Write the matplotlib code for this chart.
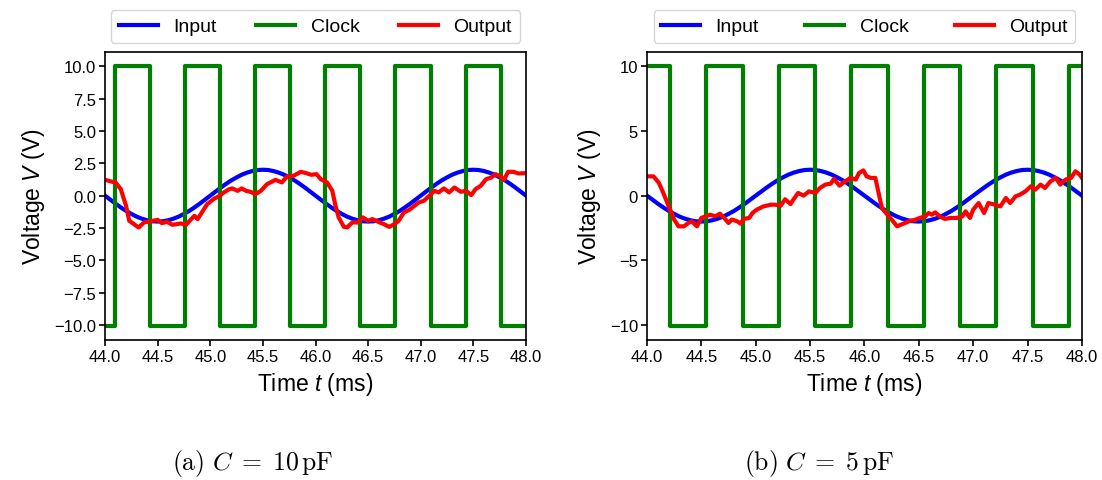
import numpy as np
import matplotlib
matplotlib.use("Agg")
import matplotlib.pyplot as plt

plt.rcParams["font.family"] = ["Liberation Sans", "DejaVu Sans"]
plt.rcParams["mathtext.fontset"] = "custom"
plt.rcParams["mathtext.rm"] = "Liberation Sans"
plt.rcParams["mathtext.it"] = "Liberation Sans:italic"

# Input sine, sampled every 0.05 ms from 44.00 to 48.00 ms
input_t = [44.0 + 0.05 * k for k in range(81)]
_half = [0.00, 0.31, 0.62, 0.91, 1.18, 1.41, 1.62, 1.78, 1.90, 1.98,
         2.00, 1.98, 1.90, 1.78, 1.62, 1.41, 1.18, 0.91, 0.62, 0.31]
input_v = ([-v for v in _half] + _half) * 2 + [0.00]

# Clock switching instants (ms) and levels (V)
clock_high = 10.0
clock_low = -10.05
clock_edges_a = [44.093, 44.427, 44.760, 45.093, 45.427, 45.760, 46.093,
                 46.427, 46.760, 47.093, 47.427, 47.760]
clock_start_a = clock_low
clock_edges_b = [44.210, 44.545, 44.880, 45.213, 45.547, 45.880, 46.213,
                 46.547, 46.880, 47.213, 47.547, 47.880]
clock_start_b = clock_high

# Output (time ms, voltage V), C = 10 pF
output_a = [
    (44.00, 1.22), (44.07, 1.07), (44.10, 1.02), (44.15, 0.50), (44.20, -0.79),
    (44.23, -1.94), (44.275, -2.20), (44.32, -2.46), (44.37, -2.07), (44.42, -2.00),
    (44.50, -1.87), (44.54, -2.12), (44.59, -2.02), (44.64, -2.25), (44.72, -2.15),
    (44.77, -2.25), (44.81, -1.89), (44.85, -1.56), (44.88, -1.81), (44.92, -1.30),
    (44.97, -0.66), (45.04, -0.22), (45.08, -0.06), (45.13, 0.25), (45.18, 0.50),
    (45.21, 0.56), (45.26, 0.37), (45.30, 0.56), (45.34, 0.37), (45.38, 0.30),
    (45.43, 0.12), (45.48, 0.37), (45.54, 0.89), (45.62, 1.22), (45.68, 1.02),
    (45.73, 1.48), (45.79, 1.53), (45.86, 1.84), (45.91, 1.74), (45.96, 1.61),
    (46.01, 1.66), (46.05, 1.27), (46.11, 1.02), (46.16, 0.37), (46.19, -0.79),
    (46.22, -1.68), (46.27, -2.41), (46.30, -2.46), (46.35, -2.07), (46.40, -2.07),
    (46.45, -1.68), (46.50, -1.94), (46.54, -1.81), (46.61, -2.07), (46.65, -2.20),
    (46.70, -2.41), (46.75, -2.20), (46.79, -1.94), (46.84, -1.30), (46.89, -1.10),
    (46.94, -0.79), (46.98, -0.53), (47.03, -0.40), (47.08, -0.02), (47.13, 0.37),
    (47.17, 0.25), (47.22, 0.56), (47.27, 0.25), (47.32, 0.63), (47.38, 0.30),
    (47.43, 0.37), (47.48, 0.04), (47.52, 0.50), (47.57, 0.76), (47.62, 1.27),
    (47.67, 1.40), (47.71, 1.66), (47.75, 1.53), (47.79, 1.22), (47.83, 1.84),
    (47.88, 1.84), (47.93, 1.71), (48.00, 1.74),
]

# Output (time ms, voltage V), C = 5 pF
output_b = [
    (44.00, 1.49), (44.06, 1.49), (44.11, 0.98), (44.15, 0.21), (44.20, -0.83),
    (44.25, -1.85), (44.29, -2.37), (44.34, -2.37), (44.38, -2.11), (44.41, -1.98),
    (44.46, -2.37), (44.50, -1.72), (44.54, -1.60), (44.58, -1.47), (44.63, -1.60),
    (44.67, -1.39), (44.71, -1.72), (44.75, -2.11), (44.78, -1.85), (44.83, -1.98),
    (44.86, -2.16), (44.89, -1.80), (44.94, -1.72), (44.97, -1.34), (45.01, -1.08),
    (45.07, -0.83), (45.14, -0.70), (45.18, -0.70), (45.23, -0.77), (45.27, -0.28),
    (45.32, -0.65), (45.35, -0.26), (45.39, 0.21), (45.44, 0.00), (45.49, 0.33),
    (45.55, 0.21), (45.59, 0.59), (45.64, 0.85), (45.69, 0.93), (45.72, 1.29),
    (45.77, 0.77), (45.81, 1.03), (45.87, 1.37), (45.92, 1.24), (45.95, 1.75),
    (45.99, 1.95), (46.02, 1.49), (46.06, 1.37), (46.10, 1.37), (46.13, 0.21),
    (46.16, -0.95), (46.21, -1.47), (46.25, -1.85), (46.30, -2.37), (46.35, -2.19),
    (46.41, -1.98), (46.47, -1.85), (46.51, -1.72), (46.56, -1.60), (46.59, -1.34),
    (46.62, -1.47), (46.65, -1.29), (46.70, -1.65), (46.74, -1.80), (46.79, -1.72),
    (46.85, -1.72), (46.90, -1.60), (46.93, -1.21), (46.97, -1.72), (47.00, -1.08),
    (47.05, -0.57), (47.10, -1.34), (47.14, -0.57), (47.20, -0.70), (47.25, -0.83),
    (47.30, -0.18), (47.34, -0.57), (47.39, -0.05), (47.43, 0.08), (47.48, 0.33),
    (47.53, 0.72), (47.57, 0.46), (47.62, 0.85), (47.66, 0.59), (47.71, 1.10),
    (47.76, 1.37), (47.80, 0.85), (47.85, 1.24), (47.90, 1.37), (47.94, 1.88),
    (47.98, 1.62), (48.00, 1.37),
]

x_ticks = [44.0, 44.5, 45.0, 45.5, 46.0, 46.5, 47.0, 47.5, 48.0]
y_ticks_a = [10.0, 7.5, 5.0, 2.5, 0.0, -2.5, -5.0, -7.5, -10.0]
y_ticks_b = [10, 5, 0, -5, -10]
captions = [r"$\mathrm{(a)}\ C\;=\;10\,\mathrm{pF}$",
            r"$\mathrm{(b)}\ C\;=\;5\,\mathrm{pF}$"]


def clock_trace(edges, start, t0=44.0, t1=48.0):
    """Square wave as a step trace from switching times."""
    other = clock_high if start == clock_low else clock_low
    ts, vs = [t0], [start]
    level = start
    for e in edges:
        ts += [e, e]
        nxt = other if level == start else start
        vs += [level, nxt]
        level = nxt
    ts.append(t1)
    vs.append(level)
    return ts, vs


fig = plt.figure(figsize=(11.02, 4.81), dpi=100)
ax_a = fig.add_axes([0.0953, 0.291, 0.3820, 0.599])
ax_b = fig.add_axes([0.5871, 0.291, 0.3947, 0.599])

panels = [
    (ax_a, clock_edges_a, clock_start_a, output_a, y_ticks_a, "{:.1f}"),
    (ax_b, clock_edges_b, clock_start_b, output_b, y_ticks_b, "{:d}"),
]

lw = 3.0
for ax, edges, start, out, yt, fmt in panels:
    ax.plot(input_t, input_v, color="#0000ff", lw=lw, label="Input")
    ct, cv = clock_trace(edges, start)
    ax.plot(ct, cv, color="#008000", lw=lw, label="Clock")
    ot = [p[0] for p in out]
    ov = [p[1] for p in out]
    ax.plot(ot, ov, color="#ff0000", lw=lw, label="Output")
    ax.set_xlim(44.0, 48.0)
    ax.set_ylim(-11.15, 11.1)
    ax.set_xticks(x_ticks)
    ax.set_xticklabels([f"{v:.1f}" for v in x_ticks])
    ax.set_yticks(yt)
    ax.set_yticklabels([fmt.format(v).replace("-", "\u2212") for v in yt])
    ax.tick_params(labelsize=12, width=1.2, length=4.5, pad=2.0)
    for s in ax.spines.values():
        s.set_linewidth(1.2)
    ax.set_xlabel(r"Time $t$ (ms)", fontsize=16.5, labelpad=4)
    ax.set_ylabel(r"Voltage $V$ (V)", fontsize=16.5, labelpad=5)
    ax.legend(loc="lower left", bbox_to_anchor=(0.015, 1.03, 0.97, 0.12),
              mode="expand", ncol=3, fontsize=14, borderaxespad=0,
              handlelength=2.0, borderpad=0.4, framealpha=0.8)

fig.text(0.229, 0.037, captions[0], fontsize=18.5, ha="center", va="center",
         math_fontfamily="cm")
fig.text(0.743, 0.037, captions[1], fontsize=18.5, ha="center", va="center",
         math_fontfamily="cm")

fig.savefig("out.png", dpi=100)
